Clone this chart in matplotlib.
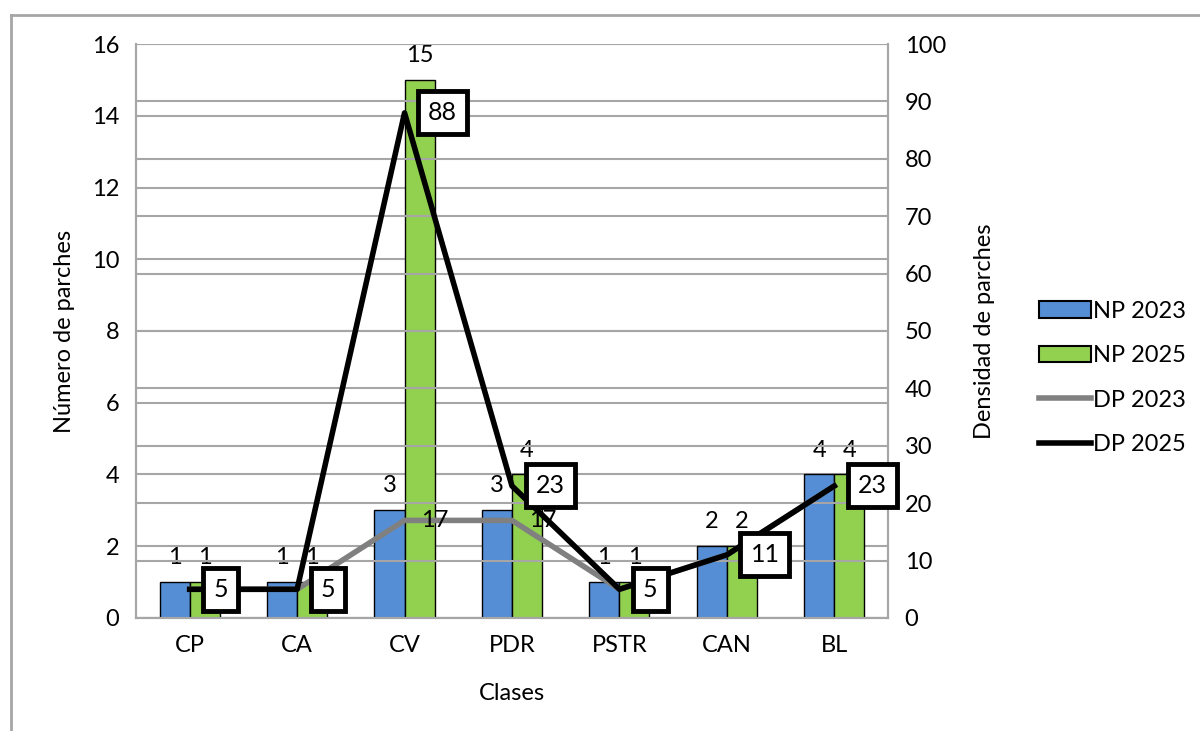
import matplotlib.pyplot as plt
import numpy as np
from matplotlib.lines import Line2D
from matplotlib.patches import Patch

plt.rcParams['font.family'] = ['Lato', 'DejaVu Sans']

clases = ["CP", "CA", "CV", "PDR", "PSTR", "CAN", "BL"]
np_2023 = [1, 1, 3, 3, 1, 2, 4]
np_2025 = [1, 1, 15, 4, 1, 2, 4]
dp_2023 = [5, 5, 17, 17, 5, 11, 23]
dp_2025 = [5, 5, 88, 23, 5, 11, 23]

azul = "#558ed5"
verde = "#92d050"
gris = "#808080"
grid_c = "#a6a6a6"
fs = 17

fig = plt.figure(figsize=(12, 7.31), dpi=100)
ax = fig.add_axes([0.1133, 0.1546, 0.6267, 0.7852])
ax2 = ax.twinx()

x = np.arange(len(clases))
w = 0.28
b1 = ax.bar(x - w / 2, np_2023, w, color=azul, edgecolor="black", linewidth=1, zorder=3)
b2 = ax.bar(x + w / 2, np_2025, w, color=verde, edgecolor="black", linewidth=1, zorder=3)

for rects, vals in ((b1, np_2023), (b2, np_2025)):
    for r, v in zip(rects, vals):
        ax.annotate(str(v), (r.get_x() + r.get_width() / 2, v), xytext=(0, 10),
                    textcoords="offset points", ha="center", va="bottom", fontsize=fs, zorder=4)

ax.set_ylim(0, 16)
ax.set_yticks(range(0, 17, 2))
ax.set_xlim(-0.5, len(clases) - 0.5)
ax.set_xticks(x)
ax.set_xticklabels(clases)
ax.yaxis.grid(True, color=grid_c, linewidth=1.5, zorder=0)
ax.set_axisbelow(True)

ax2.set_ylim(0, 100)
ax2.set_yticks(range(0, 101, 10))
ax2.yaxis.grid(True, color=grid_c, linewidth=1.5, zorder=0)

# lines on the secondary axis
ax2.plot(x, dp_2023, color=gris, linewidth=4, zorder=5)
ax2.plot(x, dp_2025, color="black", linewidth=4, zorder=6)

for i in (2, 3):
    ax2.annotate(str(dp_2023[i]), (x[i], dp_2023[i]), xytext=(12, 0), textcoords="offset points",
                 ha="left", va="center", fontsize=fs, zorder=7)

for xi, v in zip(x, dp_2025):
    ax2.annotate(str(v), (xi, v), xytext=(17, 0), textcoords="offset points",
                 ha="left", va="center", fontsize=18, zorder=8,
                 bbox=dict(boxstyle="square,pad=0.4", fc="white", ec="black", lw=3.5))

for a in (ax, ax2):
    a.tick_params(length=0, labelsize=fs, pad=12)
    for s in a.spines.values():
        s.set_color(grid_c)
        s.set_linewidth(1.5)
    a.spines["top"].set_visible(False)
ax.patch.set_visible(False)
ax2.set_zorder(ax.get_zorder() + 1)
ax2.patch.set_visible(False)

ax.set_ylabel("Número de parches", fontsize=fs, labelpad=12)
ax2.set_ylabel("Densidad de parches", fontsize=fs, labelpad=20)
ax.set_xlabel("Clases", fontsize=fs, labelpad=20)

handles = [
    Patch(facecolor=azul, edgecolor="black", linewidth=1.5, label="NP 2023"),
    Patch(facecolor=verde, edgecolor="black", linewidth=1.5, label="NP 2025"),
    Line2D([0], [0], color=gris, linewidth=4, label="DP 2023"),
    Line2D([0], [0], color="black", linewidth=4, label="DP 2025"),
]
fig.legend(handles=handles, loc="center left", bbox_to_anchor=(0.848, 0.483), frameon=False,
           fontsize=fs, handlelength=2.2, handletextpad=0.1, labelspacing=1.0)

# outer chart border
fig.add_artist(Line2D([11 / 1200, 1.0], [1 - 15 / 731] * 2, transform=fig.transFigure, color=grid_c, lw=2))
fig.add_artist(Line2D([11 / 1200] * 2, [0, 1 - 15 / 731], transform=fig.transFigure, color=grid_c, lw=2))

fig.savefig("out.png", dpi=100)
